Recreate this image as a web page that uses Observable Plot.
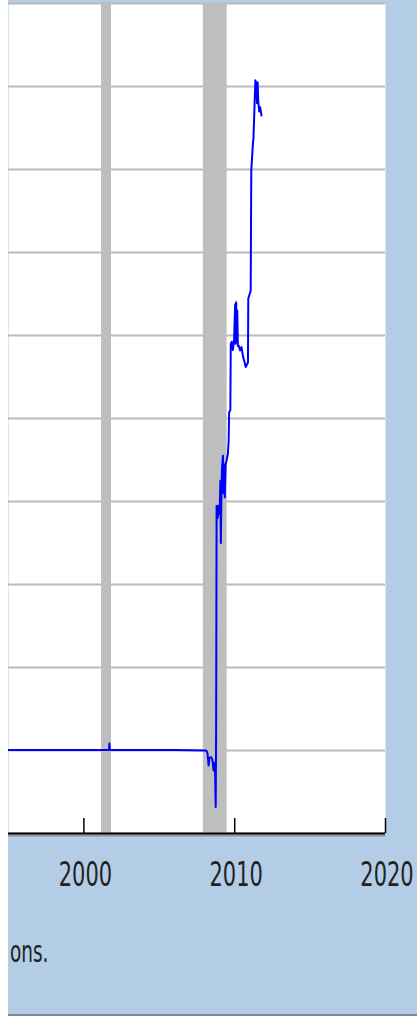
<!DOCTYPE html>
<html>
<head>
<meta charset="utf-8">
<script src="https://cdn.jsdelivr.net/npm/d3@7"></script>
<script src="https://cdn.jsdelivr.net/npm/@observablehq/plot@0.6"></script>
<style>
html, body { margin: 0; padding: 0; background: #ffffff; }
body { width: 417px; height: 1016px; overflow: hidden; position: relative; }
#wrap { position: absolute; left: 8px; top: 0; width: 409px; height: 1014px; background: #b4cde6; overflow: hidden; border-bottom: 2px solid #7d8894; }
#wrap svg { display: block; }
</style>
</head>
<body>
<div id="wrap"></div>
<script>
// Net free reserves (billions), weekly
const years = [
  1995.0, 1997.0, 1999.0, 2001.60, 2001.66, 2001.69, 2001.72, 2001.80, 2004.0, 2006.0,
  2008.10, 2008.15, 2008.20, 2008.27, 2008.33, 2008.43, 2008.52, 2008.60, 2008.65, 2008.70,
  2008.74, 2008.77, 2008.80, 2008.87, 2008.94, 2009.00, 2009.05, 2009.08, 2009.12, 2009.16,
  2009.22, 2009.25, 2009.30, 2009.34, 2009.40, 2009.47, 2009.55, 2009.60, 2009.63, 2009.71,
  2009.74, 2009.80, 2009.88, 2009.96, 2010.03, 2010.06, 2010.10, 2010.13, 2010.17, 2010.21,
  2010.26, 2010.36, 2010.45, 2010.56, 2010.66, 2010.73, 2010.88, 2010.90, 2011.06, 2011.10,
  2011.22, 2011.24, 2011.37, 2011.44, 2011.48, 2011.52, 2011.56, 2011.62, 2011.69, 2011.78
];
const values = [
  1, 1, 1, 1, 1, 17, 2, 1, 1, 1,
  0, -2, -8, -36, -18, -16, -22, -48, -30, -52,
  -136, 60, 590, 560, 590, 570, 650, 500, 620, 680,
  710, 620, 690, 610, 690, 700, 715, 747, 815, 820,
  980, 985, 965, 990, 1075, 980, 1080, 985, 1060, 975,
  976, 964, 972, 948, 935, 924, 935, 1089, 1108, 1398,
  1470, 1470, 1615, 1600, 1560, 1610, 1565, 1540, 1550, 1530
];
const recessionStart = [2001.17, 2007.92];
const recessionEnd = [2001.83, 2009.50];
const gridValues = [-200, 0, 200, 400, 600, 800, 1000, 1200, 1400, 1600, 1800];
const tickYears = [2000, 2010, 2020];
const tickLabels = ["2000", "2010", "2020"];
const captionText = "ons.";

const series = years.map((x, i) => ({year: x, value: values[i]}));
const recessions = recessionStart.map((s, i) => ({start: s, end: recessionEnd[i]}));

const chart = Plot.plot({
  width: 409,
  height: 1014,
  marginLeft: 0,
  marginRight: 32,
  marginTop: 3,
  marginBottom: 181,
  style: {background: "transparent", overflow: "visible"},
  x: {domain: [1995, 2020], axis: null},
  y: {domain: [-200, 1800], axis: null},
  marks: [
    Plot.frame({fill: "white", stroke: null}),
    Plot.ruleY(gridValues, {stroke: "#bababa", strokeWidth: 2}),
    Plot.rect(recessions, {x1: "start", x2: "end", y1: -200, y2: 1800, fill: "#bebebe"}),
    Plot.line(series, {x: "year", y: "value", stroke: "#0000ff", strokeWidth: 2}),
    Plot.ruleY([-200], {stroke: "#8a95a1", strokeWidth: 2, dy: 2}),
    Plot.ruleY([-200], {stroke: "#000000", strokeWidth: 2}),
    Plot.ruleX(tickYears, {y1: -200, y2: -200, insetTop: -15, stroke: "#000000", strokeWidth: 1.5})
  ]
});

const svg = d3.select(chart);
const xs = chart.scale("x");
const ys = chart.scale("y");
const base = ys.apply(-200);
const g = svg.append("g")
  .attr("font-family", "'DejaVu Sans', Verdana, sans-serif")
  .attr("fill", "#222222");
tickYears.forEach((t, i) => {
  g.append("text")
    .attr("text-anchor", "middle")
    .attr("font-size", 21)
    .attr("transform", `translate(${xs.apply(t) + 2},${base + 52.5}) scale(1,1.58)`)
    .text(tickLabels[i]);
});
g.append("text")
  .attr("text-anchor", "end")
  .attr("font-size", 18.5)
  .attr("transform", `translate(40.5,${base + 128.5}) scale(1,1.58)`)
  .text(captionText);

document.getElementById("wrap").appendChild(chart);
</script>
</body>
</html>
